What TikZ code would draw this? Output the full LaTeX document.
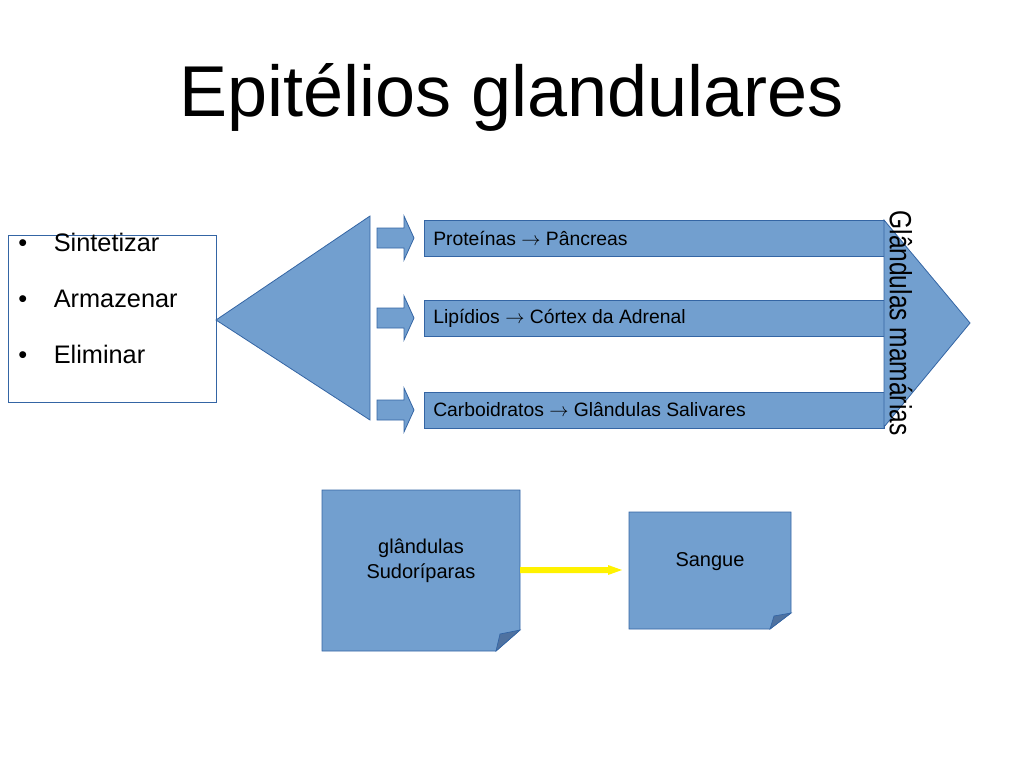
\documentclass[tikz,border=0pt]{standalone}
\usepackage{fontspec}
\setmainfont{Liberation Sans}
\begin{document}
\begin{tikzpicture}[x=0.75pt,y=-0.75pt,
  shp/.style={fill=fillb,draw=edgeb,line width=0.6pt},
  bartext/.style={font=\fontsize{14.5}{16}\selectfont,anchor=west,inner sep=0pt}]
\definecolor{fillb}{HTML}{729FCF}
\definecolor{edgeb}{HTML}{3465A4}
\definecolor{foldb}{HTML}{4F72A0}
\useasboundingbox (0,0) rectangle (1024,768);
\node[font=\fontsize{54}{60}\selectfont] (title) at (512,97) {Epitélios glandulares};
% left list box
\draw[draw=edgeb,fill=white,line width=0.5pt] (8,235) rectangle (216,402);
\node[anchor=north west,align=left,font=\fontsize{19}{42}\selectfont,inner sep=0pt] (list) at (18,233)
 {\textbullet\hspace{20pt}Sintetizar\\\textbullet\hspace{20pt}Armazenar\\\textbullet\hspace{20pt}Eliminar};
% triangle
\draw[shp] (216,320) -- (370,216) -- (370,420) -- cycle;
% small arrows
\foreach \y in {238,318,410}{
 \draw[shp] (377,\y-10) -- (404,\y-10) -- (404,\y-22) -- (414,\y) -- (404,\y+22) -- (404,\y+10) -- (377,\y+10) -- cycle;}
% bars
\draw[shp] (424,220) rectangle (884,256);
\draw[shp] (424,300) rectangle (884,336);
\draw[shp] (424,392) rectangle (884,428);
\node[bartext] (b1) at (433,238) {Proteínas $\rightarrow$ Pâncreas};
\node[bartext] (b2) at (433,318) {Lipídios $\rightarrow$ Córtex da Adrenal};
\node[bartext] (b3) at (433,410) {Carboidratos $\rightarrow$ Glândulas Salivares};
% big right arrow
\draw[shp] (884,220) -- (970,323) -- (884,427) -- cycle;
\node[rotate=-90,xscale=0.8,font=\fontsize{23}{25}\selectfont,inner sep=0pt] (gm) at (901,323) {Glândulas mamárias};
% notes
\draw[shp] (322,490) -- (520,490) -- (520,630) -- (496,651) -- (322,651) -- cycle;
\draw[fill=foldb,draw=edgeb,line width=0.5pt] (496,651) -- (500,634) -- (520,630) -- cycle;
\node[align=center,font=\fontsize{15}{19}\selectfont] (n1) at (421,561) {glândulas\\Sudoríparas};
\draw[shp] (629,512) -- (791,512) -- (791,613) -- (770,629) -- (629,629) -- cycle;
\draw[fill=foldb,draw=edgeb,line width=0.5pt] (770,629) -- (774,616) -- (791,613) -- cycle;
\node[font=\fontsize{15}{19}\selectfont] (n2) at (710,562) {Sangue};
\coordinate (a1) at (520,570);
\coordinate (a2) at (622,570);
\fill[yellow] (a1) ++(0,-3) -- (608,567) -- (608,565) -- (a2) -- (608,575) -- (608,573) -- (520,573) -- cycle;
\end{tikzpicture}
\end{document}
